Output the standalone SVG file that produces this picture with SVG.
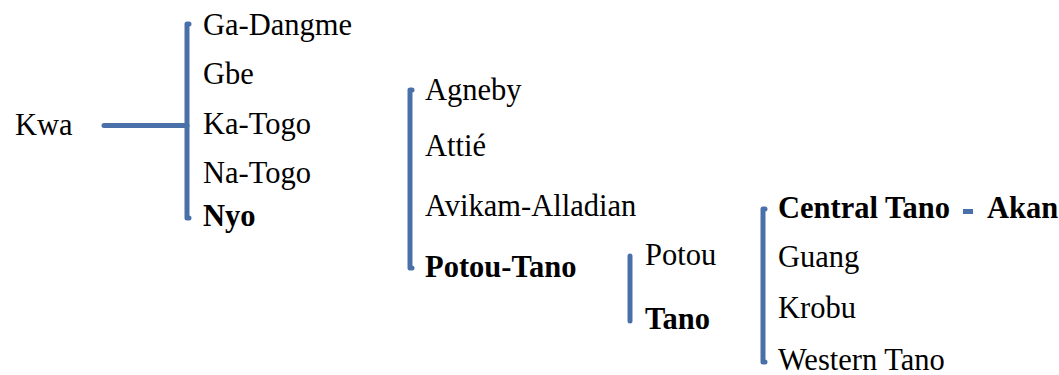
<svg xmlns="http://www.w3.org/2000/svg" width="1059" height="375" viewBox="0 0 1059 375">
  <defs>
    <!-- shared bracket stroke -->
    <path id="tick" d="M0 0 H10 V5 H0 Z" fill="#4a70aa"/>
  </defs>
  <rect width="1059" height="375" fill="#fff"/>

  <!-- connectors: brackets grouping each family's branches -->
  <g id="connectors" fill="none" stroke="#4a70aa" stroke-width="5" stroke-linecap="round" stroke-linejoin="round">
    <path d="M104 125.5 H187"/>
    <path d="M189 24 H187 V218 H189"/>
    <path d="M412 90 H410 V268 H412"/>
    <path d="M630 256 V321"/>
    <path d="M765 209 H763 V362 H765"/>
    <use href="#tick" x="963" y="209" stroke="none"/>
  </g>

  <g font-size="30.5" fill="#000">
    <g id="kwa"><text x="15" y="135" font-family="Liberation Serif">Kwa</text></g>

    <g id="ga-dangme"><text x="203" y="35" font-family="Liberation Serif">Ga-Dangme</text></g>
    <g id="gbe"><text x="203" y="84" font-family="Liberation Serif">Gbe</text></g>
    <g id="ka-togo"><text x="203" y="134" font-family="Liberation Serif">Ka-Togo</text></g>
    <g id="na-togo"><text x="203" y="183" font-family="Liberation Serif">Na-Togo</text></g>
    <g id="nyo"><text x="203" y="226" font-weight="bold" font-family="Liberation Serif">Nyo</text></g>

    <g id="agneby"><text x="425" y="100" font-family="Liberation Serif">Agneby</text></g>
    <g id="attie"><text x="425" y="156" font-family="Liberation Serif">Attié</text></g>
    <g id="avikam-alladian"><text x="425" y="216" font-family="Liberation Serif">Avikam-Alladian</text></g>
    <g id="potou-tano"><text x="425" y="277" font-weight="bold" font-family="Liberation Serif">Potou-Tano</text></g>

    <g id="potou"><text x="645" y="265" font-family="Liberation Serif">Potou</text></g>
    <g id="tano"><text x="645" y="329" font-weight="bold" font-family="Liberation Serif">Tano</text></g>

    <g id="central-tano"><text x="778" y="218" font-weight="bold" font-family="Liberation Serif">Central Tano</text></g>
    <g id="akan"><text x="987" y="218" font-weight="bold" font-family="Liberation Serif">Akan</text></g>
    <g id="guang"><text x="778" y="267" font-family="Liberation Serif">Guang</text></g>
    <g id="krobu"><text x="778" y="318" font-family="Liberation Serif">Krobu</text></g>
    <g id="western-tano"><text x="778" y="370" font-family="Liberation Serif">Western Tano</text></g>
  </g>
</svg>
